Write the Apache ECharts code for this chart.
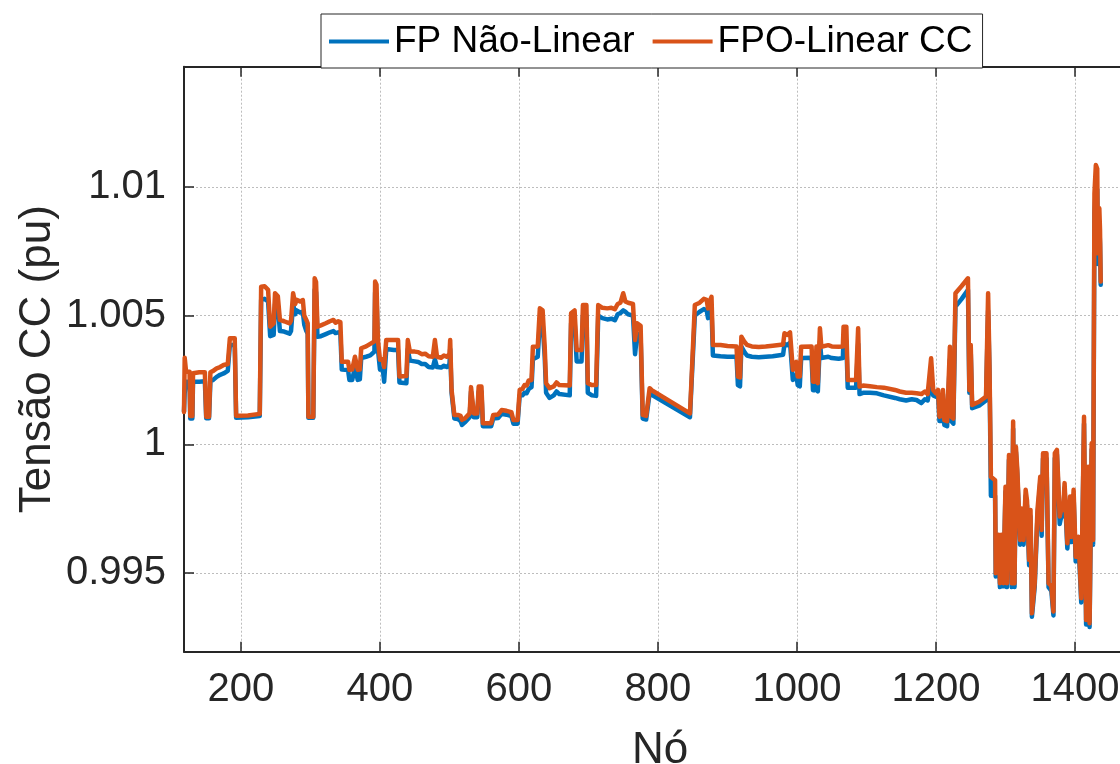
<!DOCTYPE html>
<html>
<head>
<meta charset="utf-8">
<script src="https://cdn.jsdelivr.net/npm/echarts@6/dist/echarts.min.js"></script>
<style>
  html, body { margin: 0; padding: 0; background: #fff; }
  #chart { width: 1120px; height: 764px; }
</style>
</head>
<body>
<div id="chart"></div>
<script>
// Node index along the feeder
const nodes = [
  118, 119, 121, 126, 127, 130, 131, 140, 148, 150, 154, 156, 160, 165, 170, 175, 181, 183, 184, 191,
  193, 210, 227, 229, 234, 239, 242, 247, 249, 253, 256, 262, 270, 272, 275, 278, 280, 285, 289, 291,
  294, 296, 297, 304, 306, 308, 310, 315, 322, 328, 333, 336, 340, 343, 345, 354, 356, 360, 364, 366,
  368, 371, 373, 380, 386, 392, 393, 395, 397, 400, 404, 406, 409, 420, 426, 428, 438, 440, 443, 450,
  455, 460, 465, 470, 476, 479, 482, 488, 492, 496, 500, 501, 503, 507, 512, 516, 518, 522, 529, 531,
  533, 535, 540, 542, 546, 548, 560, 563, 570, 575, 582, 589, 592, 598, 601, 605, 608, 611, 614, 618,
  620, 627, 630, 634, 637, 639, 644, 650, 654, 658, 673, 675, 680, 683, 690, 692, 697, 699, 705, 711,
  714, 720, 727, 733, 738, 742, 746, 750, 753, 757, 764, 767, 770, 775, 778, 783, 788, 791, 846, 848,
  853, 860, 866, 870, 872, 875, 877, 879, 890, 900, 913, 915, 918, 920, 924, 928, 935, 945, 955, 965,
  980, 982, 986, 990, 992, 994, 997, 999, 1001, 1004, 1006, 1021, 1023, 1026, 1028, 1030, 1033, 1035, 1045, 1050,
  1060, 1066, 1067, 1071, 1073, 1085, 1088, 1090, 1095, 1105, 1115, 1125, 1141, 1148, 1157, 1165, 1172, 1179, 1184, 1188,
  1193, 1196, 1200, 1203, 1205, 1208, 1210, 1212, 1216, 1220, 1222, 1225, 1228, 1237, 1246, 1248, 1250, 1252, 1262, 1272,
  1274, 1275, 1277, 1279, 1285, 1286, 1290, 1292, 1294, 1297, 1300, 1302, 1305, 1307, 1309, 1311, 1313, 1315, 1317, 1321,
  1323, 1326, 1329, 1331, 1334, 1336, 1338, 1342, 1346, 1350, 1352, 1354, 1359, 1362, 1366, 1369, 1371, 1374, 1378, 1381,
  1383, 1385, 1389, 1393, 1395, 1398, 1401, 1405, 1407, 1409, 1413, 1416, 1419, 1421, 1424, 1426, 1428, 1430, 1432, 1433,
  1435, 1436, 1437
];

// DC voltage from the non-linear power flow (pu)
const fpNaoLinear = [
  1.00128, 1.00200, 1.00243, 1.00243, 1.00100, 1.00100, 1.00243, 1.00243, 1.00245, 1.00101, 1.00101, 1.00245, 1.00250, 1.00262, 1.00270, 1.00275, 1.00285, 1.00292, 1.00386, 1.00386,
  1.00103, 1.00105, 1.00110, 1.00561, 1.00565, 1.00555, 1.00420, 1.00425, 1.00545, 1.00540, 1.00440, 1.00438, 1.00430, 1.00440, 1.00545, 1.00505, 1.00520, 1.00512, 1.00515, 1.00465,
  1.00440, 1.00430, 1.00103, 1.00103, 1.00600, 1.00590, 1.00418, 1.00420, 1.00428, 1.00435, 1.00440, 1.00432, 1.00435, 1.00432, 1.00290, 1.00289, 1.00250, 1.00250, 1.00300, 1.00300,
  1.00250, 1.00252, 1.00335, 1.00340, 1.00345, 1.00360, 1.00590, 1.00580, 1.00370, 1.00290, 1.00292, 1.00243, 1.00370, 1.00366, 1.00366, 1.00240, 1.00237, 1.00370, 1.00325, 1.00322,
  1.00320, 1.00312, 1.00312, 1.00300, 1.00298, 1.00330, 1.00300, 1.00298, 1.00305, 1.00300, 1.00310, 1.00370, 1.00200, 1.00100, 1.00098, 1.00090, 1.00075, 1.00085, 1.00105, 1.00205,
  1.00205, 1.00105, 1.00105, 1.00205, 1.00205, 1.00070, 1.00070, 1.00100, 1.00102, 1.00118, 1.00115, 1.00110, 1.00080, 1.00080, 1.00190, 1.00190, 1.00200, 1.00198, 1.00215, 1.00222,
  1.00330, 1.00340, 1.00480, 1.00470, 1.00340, 1.00200, 1.00180, 1.00190, 1.00205, 1.00195, 1.00190, 1.00470, 1.00480, 1.00322, 1.00322, 1.00500, 1.00500, 1.00200, 1.00190, 1.00188,
  1.00500, 1.00490, 1.00485, 1.00488, 1.00482, 1.00505, 1.00510, 1.00520, 1.00515, 1.00505, 1.00500, 1.00350, 1.00430, 1.00420, 1.00100, 1.00096, 1.00200, 1.00192, 1.00105, 1.00220,
  1.00500, 1.00515, 1.00525, 1.00520, 1.00490, 1.00515, 1.00530, 1.00345, 1.00342, 1.00340, 1.00340, 1.00230, 1.00225, 1.00380, 1.00360, 1.00345, 1.00340, 1.00338, 1.00340, 1.00342,
  1.00348, 1.00390, 1.00385, 1.00395, 1.00400, 1.00250, 1.00255, 1.00270, 1.00230, 1.00225, 1.00335, 1.00336, 1.00210, 1.00210, 1.00330, 1.00205, 1.00400, 1.00335, 1.00340, 1.00335,
  1.00332, 1.00335, 1.00410, 1.00400, 1.00220, 1.00220, 1.00390, 1.00195, 1.00200, 1.00200, 1.00198, 1.00190, 1.00180, 1.00175, 1.00170, 1.00175, 1.00172, 1.00160, 1.00175, 1.00170,
  1.00250, 1.00190, 1.00185, 1.00195, 1.00090, 1.00090, 1.00195, 1.00075, 1.00070, 1.00330, 1.00090, 1.00080, 1.00535, 1.00565, 1.00600, 1.00200, 1.00360, 1.00140, 1.00150, 1.00170,
  1.00172, 1.00520, 1.00280, 0.99800, 0.99800, 0.99486, 0.99630, 0.99445, 0.99630, 0.99448, 0.99815, 0.99445, 0.99940, 0.99930, 0.99445, 1.00060, 0.99445, 0.99970, 0.99880, 0.99610,
  0.99730, 0.99610, 0.99800, 0.99760, 0.99530, 0.99720, 0.99330, 0.99445, 0.99720, 0.99850, 0.99645, 0.99945, 0.99945, 0.99445, 0.99430, 0.99335, 0.99945, 0.99960, 0.99690, 0.99730,
  0.99720, 0.99830, 0.99595, 0.99775, 0.99620, 0.99800, 0.99545, 0.99620, 0.99615, 0.99385, 1.00080, 0.99300, 0.99890, 0.99290, 0.99980, 0.99610, 1.00900, 1.01000, 1.00990, 1.00700,
  1.00850, 1.00780, 1.00620
];

// DC voltage from the linearised optimal power flow (pu)
const fpoLinearCC = [
  1.00125, 1.00336, 1.00282, 1.00282, 1.00110, 1.00110, 1.00276, 1.00280, 1.00280, 1.00107, 1.00107, 1.00280, 1.00285, 1.00295, 1.00300, 1.00308, 1.00312, 1.00312, 1.00412, 1.00412,
  1.00111, 1.00112, 1.00118, 1.00612, 1.00614, 1.00600, 1.00457, 1.00470, 1.00587, 1.00575, 1.00483, 1.00478, 1.00470, 1.00480, 1.00587, 1.00545, 1.00561, 1.00555, 1.00560, 1.00500,
  1.00483, 1.00470, 1.00107, 1.00107, 1.00645, 1.00630, 1.00457, 1.00462, 1.00470, 1.00478, 1.00483, 1.00472, 1.00478, 1.00475, 1.00321, 1.00321, 1.00289, 1.00290, 1.00340, 1.00335,
  1.00289, 1.00290, 1.00373, 1.00380, 1.00390, 1.00400, 1.00632, 1.00620, 1.00405, 1.00328, 1.00330, 1.00300, 1.00405, 1.00405, 1.00405, 1.00263, 1.00265, 1.00405, 1.00360, 1.00360,
  1.00358, 1.00350, 1.00352, 1.00342, 1.00340, 1.00405, 1.00340, 1.00336, 1.00345, 1.00340, 1.00350, 1.00405, 1.00211, 1.00114, 1.00114, 1.00110, 1.00095, 1.00100, 1.00120, 1.00222,
  1.00222, 1.00120, 1.00120, 1.00224, 1.00224, 1.00082, 1.00082, 1.00114, 1.00116, 1.00133, 1.00130, 1.00125, 1.00094, 1.00094, 1.00211, 1.00215, 1.00230, 1.00228, 1.00248, 1.00250,
  1.00379, 1.00380, 1.00528, 1.00520, 1.00379, 1.00237, 1.00218, 1.00225, 1.00240, 1.00230, 1.00228, 1.00509, 1.00520, 1.00366, 1.00366, 1.00541, 1.00541, 1.00237, 1.00230, 1.00230,
  1.00541, 1.00530, 1.00528, 1.00530, 1.00525, 1.00545, 1.00550, 1.00587, 1.00555, 1.00550, 1.00545, 1.00405, 1.00470, 1.00460, 1.00114, 1.00110, 1.00218, 1.00210, 1.00120, 1.00237,
  1.00541, 1.00550, 1.00565, 1.00561, 1.00528, 1.00560, 1.00573, 1.00386, 1.00386, 1.00382, 1.00380, 1.00263, 1.00260, 1.00418, 1.00400, 1.00386, 1.00380, 1.00378, 1.00380, 1.00383,
  1.00388, 1.00431, 1.00425, 1.00435, 1.00435, 1.00289, 1.00300, 1.00320, 1.00263, 1.00263, 1.00379, 1.00380, 1.00243, 1.00243, 1.00380, 1.00237, 1.00451, 1.00379, 1.00385, 1.00380,
  1.00379, 1.00380, 1.00457, 1.00457, 1.00250, 1.00250, 1.00451, 1.00224, 1.00228, 1.00225, 1.00222, 1.00220, 1.00211, 1.00205, 1.00200, 1.00200, 1.00198, 1.00195, 1.00205, 1.00195,
  1.00334, 1.00211, 1.00198, 1.00211, 1.00107, 1.00110, 1.00211, 1.00094, 1.00090, 1.00379, 1.00107, 1.00100, 1.00587, 1.00615, 1.00645, 1.00211, 1.00386, 1.00153, 1.00165, 1.00185,
  1.00190, 1.00587, 1.00300, 0.99874, 0.99860, 0.99499, 0.99648, 0.99460, 0.99648, 0.99460, 0.99835, 0.99460, 0.99958, 0.99950, 0.99460, 1.00088, 0.99460, 0.99990, 0.99900, 0.99628,
  0.99750, 0.99628, 0.99823, 0.99780, 0.99551, 0.99745, 0.99343, 0.99460, 0.99745, 0.99874, 0.99667, 0.99965, 0.99965, 0.99460, 0.99450, 0.99350, 0.99965, 0.99978, 0.99719, 0.99758,
  0.99745, 0.99849, 0.99615, 0.99797, 0.99640, 0.99823, 0.99563, 0.99641, 0.99641, 0.99402, 1.00107, 0.99317, 0.99913, 0.99305, 1.00004, 0.99628, 1.00975, 1.01085, 1.01070, 1.00742,
  1.00917, 1.00833, 1.00632
];

const seriesNames = ['FP Não-Linear', 'FPO-Linear CC'];
const xLimits = [118, 1488];
const yLimits = [0.99194, 1.01467];

const font = "'Liberation Sans', Arial, Helvetica, sans-serif";
const axisColor = '#262626';

const pairs = (ys) => nodes.map((x, i) => [x, ys[i]]);
const plainNumber = (v) => String(v);

const chart = echarts.init(document.getElementById('chart'), null, { renderer: 'canvas' });

const gridLine = { show: true, lineStyle: { color: '#bdbdbd', width: 1, type: [2, 2] } };

chart.setOption({
  animation: false,
  backgroundColor: '#ffffff',
  grid: {
    left: 184, top: 66.7,
    width: (xLimits[1] - xLimits[0]) * 0.695, height: 585,
    containLabel: false, outerBoundsMode: 'none'
  },
  legend: {
    data: seriesNames,
    left: 321, top: 14,
    padding: [9, 10, 8, 8],
    itemGap: 18, itemWidth: 60, itemHeight: 4,
    icon: 'rect',
    backgroundColor: '#ffffff',
    borderColor: axisColor, borderWidth: 1, borderRadius: 0,
    textStyle: { fontFamily: font, fontSize: 37, color: '#000000' },
    z: 10
  },
  xAxis: [
    {
      type: 'value', min: xLimits[0], max: xLimits[1], splitNumber: 7,
      name: 'Nó', nameLocation: 'middle', nameGap: 77, nameMoveOverlap: false,
      nameTextStyle: { fontFamily: font, fontSize: 44, color: axisColor },
      axisLine: { show: true, lineStyle: { color: axisColor, width: 2 } },
      axisTick: { show: true, inside: true, length: 10, lineStyle: { color: axisColor, width: 1.5 } },
      axisLabel: { fontFamily: font, fontSize: 40, color: axisColor, margin: 18, showMinLabel: false, showMaxLabel: false, formatter: plainNumber },
      splitLine: gridLine
    },
    {
      type: 'value', position: 'top', min: xLimits[0], max: xLimits[1], splitNumber: 7,
      axisLine: { show: true, onZero: false, lineStyle: { color: axisColor, width: 2 } },
      axisTick: { show: true, inside: true, length: 10, lineStyle: { color: axisColor, width: 1.5 } },
      axisLabel: { show: false },
      splitLine: { show: false }
    }
  ],
  yAxis: {
    type: 'value', min: yLimits[0], max: yLimits[1], splitNumber: 5,
    name: 'Tensão CC (pu)', nameLocation: 'middle', nameGap: 124, nameMoveOverlap: false,
    nameTextStyle: { fontFamily: font, fontSize: 44, color: axisColor },
    axisLine: { show: true, lineStyle: { color: axisColor, width: 2 } },
    axisTick: { show: true, inside: true, length: 10, lineStyle: { color: axisColor, width: 1.5 } },
    axisLabel: { fontFamily: font, fontSize: 40, color: axisColor, margin: 18, showMinLabel: false, showMaxLabel: false, formatter: plainNumber },
    splitLine: gridLine
  },
  series: [
    {
      name: seriesNames[0], type: 'line', data: pairs(fpNaoLinear),
      showSymbol: false, symbol: 'none', color: '#0072BD',
      lineStyle: { width: 4.5, color: '#0072BD', cap: 'round', join: 'round' },
      z: 2
    },
    {
      name: seriesNames[1], type: 'line', data: pairs(fpoLinearCC),
      showSymbol: false, symbol: 'none', color: '#D95319',
      lineStyle: { width: 4.5, color: '#D95319', cap: 'round', join: 'round' },
      z: 3
    }
  ]
});
</script>
</body>
</html>
